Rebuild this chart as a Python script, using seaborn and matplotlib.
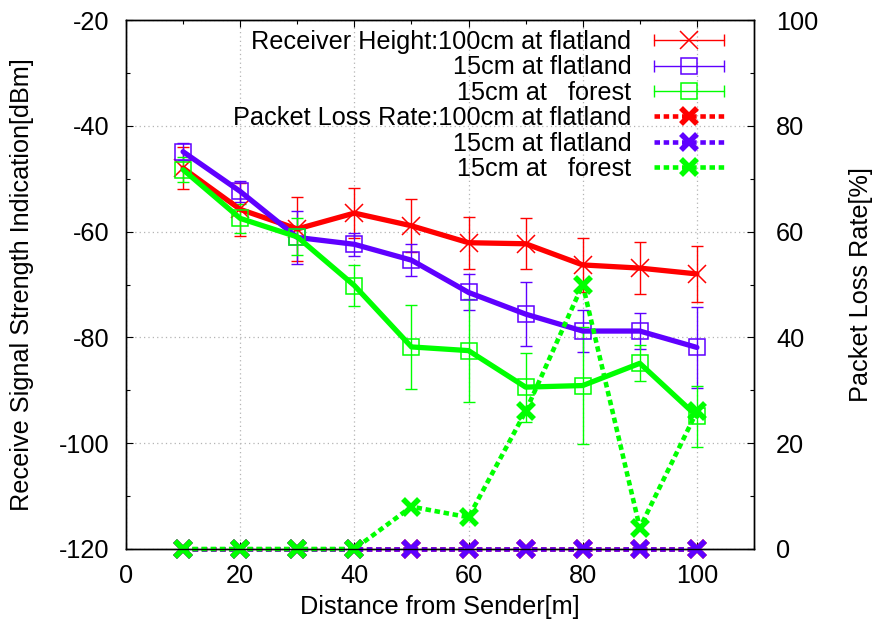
import matplotlib
matplotlib.use("Agg")
from matplotlib import pyplot as plt
from matplotlib.lines import Line2D
from matplotlib.legend_handler import HandlerLine2D
from matplotlib.ticker import MultipleLocator
import seaborn as sns

# distance from sender [m]
distance = [10, 20, 30, 40, 50, 60, 70, 80, 90, 100]

# RSSI [dBm] and error bar half-widths
rssi_100_flat = [-48.0, -55.8, -59.5, -56.5, -58.9, -62.1, -62.3, -66.3, -66.9, -68.0]
err_100_flat = [4.0, 5.0, 6.0, 4.7, 5.0, 4.9, 4.8, 5.1, 4.9, 5.3]
rssi_15_flat = [-44.9, -52.4, -61.1, -62.4, -65.4, -71.5, -75.6, -78.8, -78.8, -81.9]
err_15_flat = [1.6, 2.0, 5.0, 2.2, 3.0, 3.4, 6.0, 3.9, 3.4, 7.6]
rssi_15_forest = [-48.3, -57.5, -61.0, -70.2, -81.8, -82.5, -89.4, -89.1, -84.9, -94.9]
err_15_forest = [2.4, 2.8, 3.5, 3.9, 8.0, 9.7, 6.5, 11.0, 3.4, 5.8]

# packet loss rate [%]
loss_100_flat = [0, 0, 0, 0, 0, 0, 0, 0, 0, 0]
loss_15_flat = [0, 0, 0, 0, 0, 0, 0, 0, 0, 0]
loss_15_forest = [0, 0, 0, 0, 8, 6, 26, 50, 4, 26]

RED = "#ff0000"
BLUE = "#5f00ff"
GREEN = "#00ff00"

sns.set_theme(style="ticks")
plt.rcParams["font.family"] = ["Liberation Sans", "DejaVu Sans"]
plt.rcParams["axes.unicode_minus"] = False
FS = 18.2

fig = plt.figure(figsize=(8.74, 6.27), dpi=100)
ax = fig.add_axes([126 / 874, 1 - 549 / 627, 628 / 874, 529 / 627])

rssi_sets = [
    ("Receiver Height:100cm at flatland", rssi_100_flat, err_100_flat, RED, "x", 12.5),
    ("15cm at flatland", rssi_15_flat, err_15_flat, BLUE, "s", 11.5),
    ("15cm at   forest", rssi_15_forest, err_15_forest, GREEN, "s", 11.5),
]
loss_sets = [
    ("Packet Loss Rate:100cm at flatland", loss_100_flat, RED),
    ("15cm at flatland", loss_15_flat, BLUE),
    ("15cm at   forest", loss_15_forest, GREEN),
]

handles, labels, hmap = [], [], {}
for label, vals, errs, col, mk, ms in rssi_sets:
    ax.errorbar(distance, vals, yerr=errs, fmt="none", ecolor=col,
                elinewidth=1, capsize=4, capthick=1, zorder=2)
    sns.lineplot(x=distance, y=vals, ax=ax, color=col, linewidth=3.8,
                 marker=mk, markersize=ms, markerfacecolor="none",
                 markeredgecolor=col, markeredgewidth=1.1, zorder=3)
    caps = Line2D([], [], color=col, lw=1, marker="|", markersize=8,
                  markeredgewidth=1)
    mid = Line2D([], [], color=col, lw=0, marker=mk, markersize=ms,
                 markerfacecolor="none", markeredgecolor=col,
                 markeredgewidth=1.1)
    hmap[caps] = HandlerLine2D(numpoints=2, marker_pad=0)
    handles.append((caps, mid))
    labels.append(label)

ax.set_xlim(0, 110)
ax.set_ylim(-120, -20)
ax.xaxis.set_major_locator(MultipleLocator(20))
ax.xaxis.set_minor_locator(MultipleLocator(10))
ax.yaxis.set_major_locator(MultipleLocator(20))
ax.yaxis.set_minor_locator(MultipleLocator(10))
ax.grid(which="major", color="#b4b4b4", linestyle=(0, (1, 2.5)), linewidth=0.9)
ax.set_axisbelow(True)

ax2 = ax.twinx()
for label, vals, col in loss_sets:
    sns.lineplot(x=distance, y=vals, ax=ax2, color=col, linewidth=3.3,
                 linestyle=(0, (1.2, 0.8)), marker="x", markersize=12,
                 markeredgewidth=4.0, markeredgecolor=col, clip_on=False)
    handles.append(Line2D([], [], color=col, lw=3.3, ls=(0, (1.2, 0.8)),
                          marker="x", markersize=12, markeredgewidth=4.0))
    labels.append(label)
ax2.set_ylim(0, 100)
ax2.yaxis.set_major_locator(MultipleLocator(20))
ax2.yaxis.set_minor_locator(MultipleLocator(10))

for a in (ax, ax2):
    for s in a.spines.values():
        s.set_color("black")
        s.set_linewidth(1.0)
ax.tick_params(which="both", direction="in", color="black", width=0.8,
               top=True, right=False, labelsize=FS, labelcolor="black")
ax.tick_params(which="major", length=5)
ax.tick_params(which="minor", length=3)
ax.tick_params(axis="y", pad=12)
ax.tick_params(axis="x", pad=11)
ax2.tick_params(which="both", direction="in", color="black", width=0.8,
                labelsize=FS, labelcolor="black", pad=16)
ax2.tick_params(which="major", length=5)
ax2.tick_params(which="minor", length=3)

ax.set_xlabel("Distance from Sender[m]", fontsize=FS, color="black")
ax.set_ylabel("Receive Signal Strength Indication[dBm]", fontsize=FS, color="black")
ax2.set_ylabel("Packet Loss Rate[%]", fontsize=FS, color="black")
for lab in (ax.xaxis.label, ax.yaxis.label, ax2.yaxis.label):
    lab.set_horizontalalignment("center")
    lab.set_verticalalignment("center")
ax.xaxis.set_label_coords(0.5, -0.1096)
ax.yaxis.set_label_coords(-0.1656, 0.5)
ax2.yaxis.set_label_coords(1.170, 0.5)

leg = ax2.legend(handles, labels, handler_map=hmap, loc="upper right",
                 bbox_to_anchor=(0.952, 0.981), borderaxespad=0, borderpad=0,
                 frameon=False, markerfirst=False, fontsize=FS,
                 handlelength=2.75, handletextpad=0.9, labelspacing=0.055)
for t in leg.get_texts():
    t.set_color("black")

fig.savefig("out.png", dpi=100)
